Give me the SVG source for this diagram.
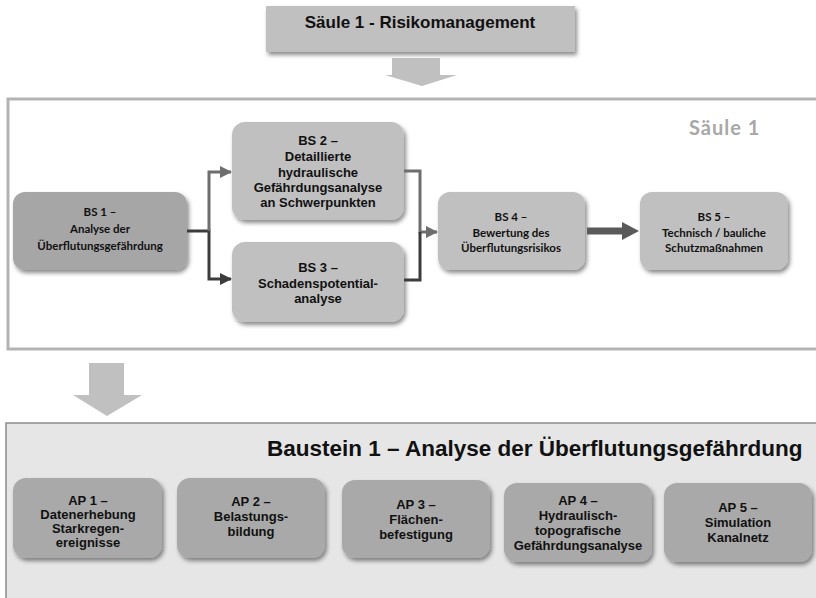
<svg xmlns="http://www.w3.org/2000/svg" width="816" height="598" viewBox="0 0 816 598">
<defs>
<filter id="sh" x="-10%" y="-10%" width="130%" height="140%">
<feDropShadow dx="2" dy="3" stdDeviation="2" flood-color="#000" flood-opacity="0.45"/>
</filter>
<marker id="ahG" markerUnits="userSpaceOnUse" markerWidth="12" markerHeight="12" refX="11" refY="6" orient="auto"><path d="M0,0 L12,6 L0,12 Z" fill="#6e6e6e"/></marker>
<marker id="ahD" markerUnits="userSpaceOnUse" markerWidth="12" markerHeight="12" refX="11" refY="6" orient="auto"><path d="M0,0 L12,6 L0,12 Z" fill="#3c3c3c"/></marker>
</defs>
<style>
.box{fill:#c0c0c0;filter:url(#sh)}
.dark{fill:#a6a6a6;filter:url(#sh)}
.ap{fill:#a9a9a9;filter:url(#sh)}
.ar{font-family:"Liberation Sans",Arial,sans-serif;font-weight:bold;font-size:13px;fill:#111;text-anchor:middle}
.ca{font-family:Lato,"Open Sans",sans-serif;font-weight:bold;font-size:11.5px;fill:#111;text-anchor:middle}
.big{fill:#c0c0c0}
</style>

<g id="top">
<rect x="266" y="6" width="309" height="46" class="box" rx="0"/>
<text x="420" y="28" class="ar" style="font-size:17px">Säule 1 - Risikomanagement</text>
</g>
<g id="arrow1">
<path d="M392,58 H440 V75 H457 L422,86 L385,75 H392 Z" class="big"/>
</g>

<g id="saeule1">
<path d="M816,99 H8 V349 H816" fill="none" stroke="#b3b3b3" stroke-width="3"/>
<text x="689" y="135" style="font-family:Lato,'Open Sans',sans-serif;font-weight:bold;font-size:20px;letter-spacing:1px;fill:#a8a8a8">Säule 1</text>
</g>

<g id="bs1">
<rect x="13" y="192" width="174" height="78" rx="12" class="dark"/>
<text class="ca"><tspan x="100" y="216">BS 1 –</tspan><tspan x="100" y="233">Analyse der</tspan><tspan x="100" y="250">Überflutungsgefährdung</tspan></text>
</g>
<g id="bs2">
<rect x="232" y="122" width="172" height="98" rx="13" class="box"/>
<text class="ar"><tspan x="318" y="145">BS 2 –</tspan><tspan x="318" y="161">Detaillierte</tspan><tspan x="318" y="176.5">hydraulische</tspan><tspan x="318" y="192">Gefährdungsanalyse</tspan><tspan x="318" y="207">an Schwerpunkten</tspan></text>
</g>
<g id="bs3">
<rect x="232" y="242" width="172" height="80" rx="13" class="box"/>
<text class="ar"><tspan x="318" y="272">BS 3 –</tspan><tspan x="318" y="288">Schadenspotential-</tspan><tspan x="318" y="303">analyse</tspan></text>
</g>
<g id="bs4">
<rect x="438" y="192" width="147" height="78" rx="12" class="box"/>
<text class="ca"><tspan x="511" y="221">BS 4 –</tspan><tspan x="511" y="237">Bewertung des</tspan><tspan x="511" y="252">Überflutungsrisikos</tspan></text>
</g>
<g id="bs5">
<rect x="640" y="192" width="148" height="78" rx="12" class="box"/>
<text class="ca"><tspan x="714" y="221">BS 5 –</tspan><tspan x="714" y="237">Technisch / bauliche</tspan><tspan x="714" y="252">Schutzmaßnahmen</tspan></text>
</g>

<g id="connectors" fill="none" stroke-width="3">
<path d="M187,231 H209 V279 H231" stroke="#3c3c3c" marker-end="url(#ahD)"/>
<path d="M209,231 V172 H231" stroke="#6e6e6e" marker-end="url(#ahG)"/>
<path d="M404,171 H420 V232 H437" stroke="#6e6e6e" marker-end="url(#ahG)"/>
<path d="M404,280 H420 V232" stroke="#3c3c3c"/>
<path d="M587,231 H623" stroke="#5a5a5a" stroke-width="7"/>
<path d="M622,222 L639,231 L622,240 Z" fill="#5a5a5a" stroke="none"/>
</g>

<g id="arrow2">
<path d="M89,363 H124 V395 H142 L107,416 L73,395 H89 Z" class="big"/>
</g>

<g id="baustein1">
<rect x="6" y="423" width="812" height="180" fill="#e6e6e6" stroke="#8c8c8c" stroke-width="1.5"/>
<text x="267" y="456" style="font-family:'Liberation Sans',Arial,sans-serif;font-weight:bold;font-size:22.5px;fill:#111">Baustein 1 – Analyse der Überflutungsgefährdung</text>
</g>

<g id="ap1">
<rect x="13" y="478" width="149" height="80" rx="13" class="ap"/>
<text class="ar"><tspan x="88" y="505">AP 1 –</tspan><tspan x="88" y="519">Datenerhebung</tspan><tspan x="88" y="533">Starkregen-</tspan><tspan x="88" y="547">ereignisse</tspan></text>
</g>
<g id="ap2">
<rect x="177" y="478" width="148" height="80" rx="13" class="ap"/>
<text class="ar"><tspan x="251" y="506">AP 2 –</tspan><tspan x="251" y="521">Belastungs-</tspan><tspan x="251" y="536">bildung</tspan></text>
</g>
<g id="ap3">
<rect x="342" y="480" width="148" height="78" rx="13" class="ap"/>
<text class="ar"><tspan x="416" y="509">AP 3 –</tspan><tspan x="416" y="524">Flächen-</tspan><tspan x="416" y="539">befestigung</tspan></text>
</g>
<g id="ap4">
<rect x="504" y="483" width="148" height="79" rx="13" class="ap"/>
<text class="ar"><tspan x="578" y="505">AP 4 –</tspan><tspan x="578" y="520">Hydraulisch-</tspan><tspan x="578" y="535">topografische</tspan><tspan x="578" y="550">Gefährdungsanalyse</tspan></text>
</g>
<g id="ap5">
<rect x="664" y="483" width="148" height="79" rx="13" class="ap"/>
<text class="ar"><tspan x="738" y="512">AP 5 –</tspan><tspan x="738" y="527">Simulation</tspan><tspan x="738" y="542">Kanalnetz</tspan></text>
</g>
</svg>
